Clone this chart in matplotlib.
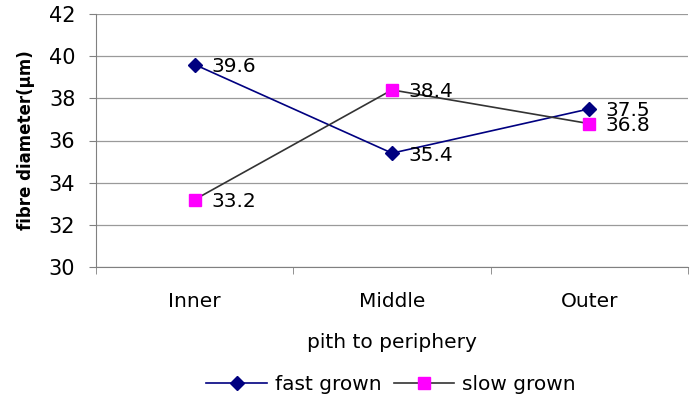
import matplotlib.pyplot as plt
import numpy as np

categories = ["Inner", "Middle", "Outer"]
fast_grown = [39.6, 35.4, 37.5]
slow_grown = [33.2, 38.4, 36.8]
y_ticks = [30, 32, 34, 36, 38, 40, 42]

plt.rcParams["font.family"] = ["DejaVu Sans"]

fig = plt.figure(figsize=(6.92, 4.0), dpi=100)
ax = fig.add_axes([0.139, 0.3325, 0.855, 0.6325])

x = np.arange(len(categories))
ax.plot(x, fast_grown, color="#000080", lw=1.2, marker="D", ms=7,
        mfc="#000080", mec="#000080", label="fast grown", zorder=3)
ax.plot(x, slow_grown, color="#333333", lw=1.2, marker="s", ms=8.5,
        mfc="#FF00FF", mec="#FF00FF", label="slow grown", zorder=3)

# value labels just right of each point
for series in (fast_grown, slow_grown):
    for xi, v in zip(x, series):
        ax.annotate(f"{v:.1f}", (xi, v), xytext=(12, -1.5),
                    textcoords="offset points", ha="left", va="center",
                    fontsize=14.5, color="black")

ax.set_xlim(-0.5, len(categories) - 0.5)
ax.set_ylim(y_ticks[0], y_ticks[-1])
ax.set_yticks(y_ticks)
ax.set_xticks(x)
ax.set_xticklabels(categories, fontsize=14.5)
ax.set_xticks(np.arange(-0.5, len(categories)), minor=True)
ax.tick_params(axis="x", which="major", length=0, pad=18)
ax.tick_params(axis="x", which="minor", length=5, color="#808080")
ax.tick_params(axis="y", length=5, color="#808080", labelsize=15, pad=10)

ax.grid(axis="y", color="#9a9a9a", lw=0.9)
ax.set_axisbelow(True)
for side in ("top", "right"):
    ax.spines[side].set_visible(False)
for side in ("left", "bottom"):
    ax.spines[side].set_color("#808080")

ax.set_ylabel("fibre diameter(\u00b5m)", fontsize=12, fontweight="bold", labelpad=10)
ax.set_xlabel("pith to periphery", fontsize=14.5, labelpad=16)

fig.legend(loc="lower center", bbox_to_anchor=(0.565, -0.03), ncol=2,
           frameon=False, fontsize=14.5, handlelength=3.0, columnspacing=0.6,
           handletextpad=0.4)

fig.savefig("out.png", dpi=100)
